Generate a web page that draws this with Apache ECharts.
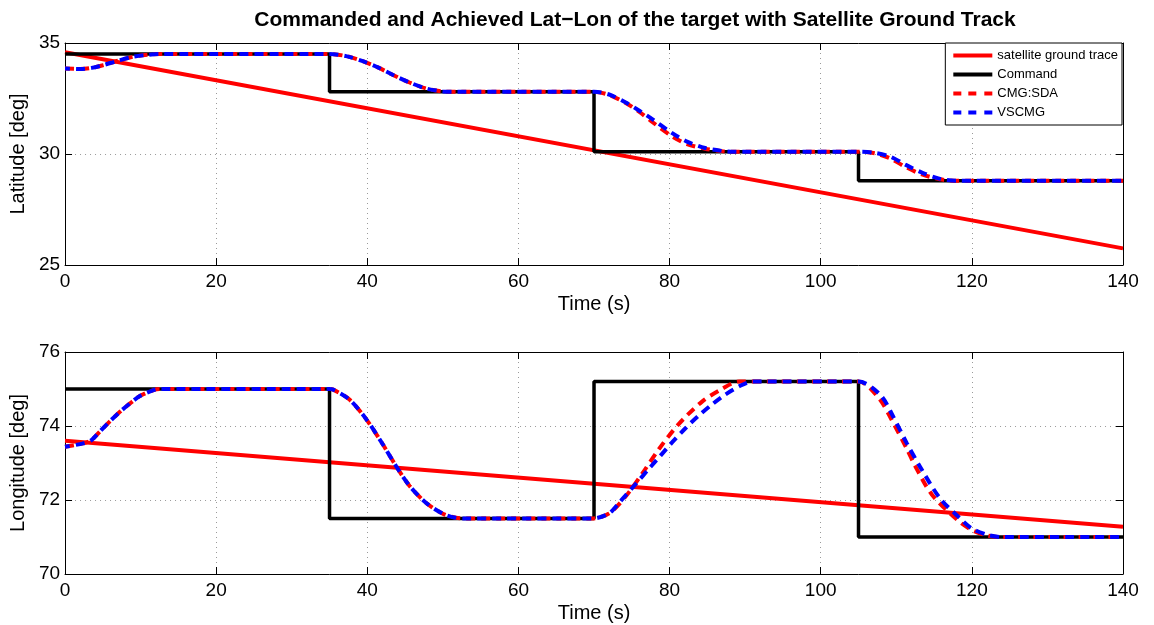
<!DOCTYPE html>
<html>
<head>
<meta charset="utf-8">
<script src="https://cdn.jsdelivr.net/npm/echarts@6/dist/echarts.min.js"></script>
<style>
  html, body { margin: 0; padding: 0; background: #fff; }
  #chart { width: 1154px; height: 625px; }
</style>
</head>
<body>
<div id="chart"></div>
<script>
// Time ticks shared by both panels
const timeTicks = [0, 20, 40, 60, 80, 100, 120, 140];

// ---- Latitude panel (deg) ----
const latGroundTrace = [[0, 34.58], [140, 25.75]];
const latCommand = [[0, 34.5], [35, 32.8], [70, 30.1], [105, 28.8], [140, 28.8]];
const latCmgSda = [
  [0, 33.85], [2, 33.83], [3.5, 33.88], [5, 34.0], [7, 34.2], [9, 34.38], [11, 34.47], [12.5, 34.5],
  [35, 34.5], [37.2, 34.41], [39.4, 34.18], [41.4, 33.9], [43.4, 33.56], [45.6, 33.22],
  [47.8, 32.95], [50, 32.82], [52, 32.8],
  [70, 32.8], [72, 32.66], [74.2, 32.3], [76, 31.9], [77.8, 31.42], [80.3, 30.8],
  [82.3, 30.45], [84.7, 30.24], [86.9, 30.13], [88.5, 30.1],
  [105, 30.1], [107.2, 30.03], [109.2, 29.8], [111.2, 29.42], [113.4, 29.08],
  [115.8, 28.86], [118, 28.79], [120, 28.8], [140, 28.8]
];
const latVscmg = [
  [0, 33.85], [2, 33.83], [3.5, 33.88], [5, 34.0], [7, 34.2], [9, 34.38], [11, 34.47], [12.5, 34.5],
  [35, 34.5], [37.2, 34.41], [39.4, 34.18], [41.4, 33.9], [43.4, 33.56], [45.6, 33.22],
  [47.8, 32.95], [50, 32.82], [52, 32.8],
  [70, 32.8], [72, 32.68], [74.2, 32.32], [76, 31.95], [77.8, 31.55], [80.3, 30.95],
  [82.3, 30.56], [84.7, 30.27], [86.9, 30.14], [88.5, 30.1],
  [105, 30.1], [107.2, 30.05], [109.2, 29.88], [111.2, 29.52], [113.4, 29.16],
  [115.8, 28.88], [118, 28.79], [120, 28.8], [140, 28.8]
];

// ---- Longitude panel (deg) ----
const lonGroundTrace = [[0, 73.6], [140, 71.28]];
const lonCommand = [[0, 75], [35, 71.5], [70, 75.2], [105, 71], [140, 71]];
const lonCmgSda = [
  [0, 73.44], [2.4, 73.53], [3.5, 73.62], [4.6, 73.85], [5.9, 74.12], [7.3, 74.39],
  [8.6, 74.61], [9.9, 74.81], [11.7, 74.97], [12.5, 75],
  [35, 75], [35.4, 74.99], [37.6, 74.72], [39.8, 74.2], [42, 73.52], [43.8, 72.92],
  [45.6, 72.38], [47.8, 71.92], [50, 71.63], [51.7, 71.52], [53, 71.5],
  [69.8, 71.5], [72, 71.64], [74.2, 72.1], [76.4, 72.72], [78.6, 73.38], [81.2, 74.05],
  [84.3, 74.66], [86.9, 75.0], [89.2, 75.2],
  [105, 75.2], [107.7, 74.75], [109.4, 74.16], [111.4, 73.38], [112.5, 72.92],
  [114.7, 72.15], [118.2, 71.44], [120, 71.19], [121.8, 71.05], [123.5, 71], [140, 71]
];
const lonVscmg = [
  [0, 73.44], [2.4, 73.53], [3.5, 73.62], [4.6, 73.85], [5.9, 74.12], [7.3, 74.39],
  [8.6, 74.61], [9.9, 74.81], [11.7, 74.97], [12.5, 75],
  [35, 75], [35.4, 74.99], [37.6, 74.72], [39.8, 74.2], [42, 73.52], [43.8, 72.92],
  [45.6, 72.38], [47.8, 71.92], [50, 71.63], [51.7, 71.52], [53, 71.5],
  [69.8, 71.5], [72, 71.64], [73.5, 71.97], [75.3, 72.38], [77.5, 72.9], [78.8, 73.2],
  [80.3, 73.55], [82.1, 73.94], [83.8, 74.27], [85.6, 74.58], [87.3, 74.84], [89.5, 75.1], [91, 75.2],
  [105, 75.2], [107.9, 74.84], [109.6, 74.25], [111.4, 73.53], [113.4, 72.81],
  [115.8, 72.04], [118.2, 71.55], [120, 71.23], [122.2, 71.05], [124, 71], [140, 71]
];

const FONT = 'Liberation Sans, Arial, Helvetica, sans-serif';
const GRID_LINE = { show: true, lineStyle: { color: '#9a9a9a', type: [1, 4], width: 1 } };
const chart = echarts.init(document.getElementById('chart'), null, { renderer: 'canvas' });

function xAxes(gridIndex) {
  return [
    {
      type: 'value', gridIndex, min: timeTicks[0], max: timeTicks[timeTicks.length - 1], interval: 20,
      name: 'Time (s)', nameLocation: 'middle', nameGap: 29,
      nameTextStyle: { color: '#000', fontSize: 20, fontFamily: FONT },
      axisLine: { show: true, onZero: false, lineStyle: { color: '#000', width: 1 } },
      axisTick: { show: true, inside: true, length: 7, lineStyle: { color: '#000' } },
      axisLabel: { color: '#000', fontSize: 19, fontFamily: FONT, margin: 7 },
      splitLine: GRID_LINE
    },
    {
      type: 'value', gridIndex, position: 'top', min: 0, max: 140, interval: 20,
      axisLine: { show: true, onZero: false, lineStyle: { color: '#000', width: 1 } },
      axisTick: { show: true, inside: true, length: 7, lineStyle: { color: '#000' } },
      axisLabel: { show: false }, splitLine: { show: false }
    }
  ];
}

function yAxes(gridIndex, min, max, interval, name) {
  return [
    {
      type: 'value', gridIndex, min, max, interval,
      name, nameLocation: 'middle', nameGap: 27, nameRotate: 90,
      nameTextStyle: { color: '#000', fontSize: 20, fontFamily: FONT },
      axisLine: { show: true, onZero: false, lineStyle: { color: '#000', width: 1 } },
      axisTick: { show: true, inside: true, length: 7, lineStyle: { color: '#000' } },
      axisLabel: { color: '#000', fontSize: 19, fontFamily: FONT, margin: 5 },
      splitLine: GRID_LINE
    },
    {
      type: 'value', gridIndex, position: 'right', min, max, interval,
      axisLine: { show: true, onZero: false, lineStyle: { color: '#000', width: 1 } },
      axisTick: { show: true, inside: true, length: 7, lineStyle: { color: '#000' } },
      axisLabel: { show: false }, splitLine: { show: false }
    }
  ];
}

function panelSeries(xi, yi, ground, cmd, sda, vs) {
  const base = { type: 'line', xAxisIndex: xi, yAxisIndex: yi, showSymbol: false, symbol: 'none', animation: false };
  return [
    Object.assign({}, base, { name: 'satellite ground trace', data: ground,
      lineStyle: { color: '#ff0000', width: 4 }, itemStyle: { color: '#ff0000' } }),
    Object.assign({}, base, { name: 'Command', data: cmd, step: 'end',
      lineStyle: { color: '#000000', width: 3.5 }, itemStyle: { color: '#000000' } }),
    Object.assign({}, base, { name: 'CMG:SDA', data: sda, smooth: 0.3,
      lineStyle: { color: '#ff0000', width: 4, type: [9, 6] }, itemStyle: { color: '#ff0000' } }),
    Object.assign({}, base, { name: 'VSCMG', data: vs, smooth: 0.3,
      lineStyle: { color: '#0000ff', width: 4, type: [9, 6], dashOffset: 4 }, itemStyle: { color: '#0000ff' } })
  ];
}

// legend keys: solid bar for solid lines, three short bars for dashed ones
const SOLID_KEY = 'path://M0,0H39V4H0Z';
const DASH_KEY = 'path://M0,0H8V4H0Z M15,0H23V4H15Z M31,0H39V4H31Z';

chart.setOption({
  backgroundColor: '#fff',
  animation: false,
  title: {
    text: 'Commanded and Achieved Lat\u2212Lon of the target with Satellite Ground Track',
    left: 630, top: 5, textAlign: 'center',
    textStyle: { color: '#000', fontSize: 21, fontWeight: 'bold', fontFamily: FONT }
  },
  legend: {
    right: 32, top: 43, orient: 'vertical', align: 'left',
    backgroundColor: '#fff', borderColor: '#000', borderWidth: 1,
    padding: [6, 4, 6, 8], itemGap: 6, itemWidth: 39, itemHeight: 4,
    textStyle: { color: '#000', fontSize: 13, fontFamily: FONT },
    data: [
      { name: 'satellite ground trace', icon: SOLID_KEY },
      { name: 'Command', icon: SOLID_KEY },
      { name: 'CMG:SDA', icon: DASH_KEY },
      { name: 'VSCMG', icon: DASH_KEY }
    ]
  },
  grid: [
    { left: 65, top: 43, width: 1058, height: 222, show: false },
    { left: 65, top: 352, width: 1058, height: 222, show: false }
  ],
  xAxis: [...xAxes(0), ...xAxes(1)],
  yAxis: [...yAxes(0, 25, 35, 5, 'Latitude [deg]'), ...yAxes(1, 70, 76, 2, 'Longitude [deg]')],
  series: [
    ...panelSeries(0, 0, latGroundTrace, latCommand, latCmgSda, latVscmg),
    ...panelSeries(2, 2, lonGroundTrace, lonCommand, lonCmgSda, lonVscmg)
  ]
});
</script>
</body>
</html>
